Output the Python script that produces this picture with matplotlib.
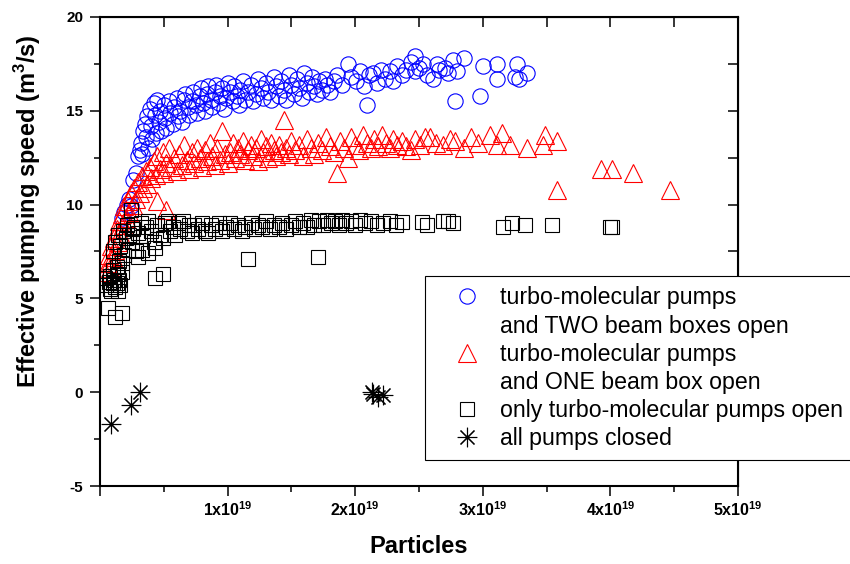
import numpy as np
import matplotlib
matplotlib.use("Agg")
import matplotlib.pyplot as plt
from matplotlib.lines import Line2D
from matplotlib.ticker import MultipleLocator

plt.rcParams['font.family'] = ['Liberation Sans', 'DejaVu Sans']
plt.rcParams['mathtext.fontset'] = 'custom'
plt.rcParams['mathtext.rm'] = 'Liberation Sans'
plt.rcParams['mathtext.bf'] = 'Liberation Sans:bold'

# particles in units of 1e19, pumping speed in m^3/s
two_boxes = [
    (0.17, 9.3), (0.19, 9.6), (0.21, 10.0), (0.23, 10.3), (0.24, 9.9), (0.26, 11.3),
    (0.28, 11.7), (0.30, 12.6), (0.31, 12.9), (0.32, 13.3), (0.33, 12.7), (0.34, 13.9),
    (0.35, 14.3), (0.36, 13.6), (0.37, 14.7), (0.38, 13.0), (0.39, 15.1), (0.40, 14.2),
    (0.41, 13.5), (0.42, 15.4), (0.43, 14.8), (0.44, 13.8), (0.45, 15.6), (0.46, 14.4),
    (0.47, 15.0), (0.48, 13.9), (0.50, 15.3), (0.51, 14.6), (0.52, 14.1), (0.54, 15.5),
    (0.55, 14.9), (0.57, 14.3), (0.58, 15.2), (0.60, 15.7), (0.61, 14.7), (0.63, 15.0),
    (0.64, 14.4), (0.66, 15.6), (0.67, 15.9), (0.69, 15.2), (0.70, 14.8), (0.72, 15.5),
    (0.73, 16.0), (0.75, 15.3), (0.76, 14.9), (0.78, 15.8), (0.79, 16.2), (0.81, 15.4),
    (0.82, 15.0), (0.84, 15.9), (0.85, 16.3), (0.87, 15.6), (0.88, 15.2), (0.90, 16.0),
    (0.91, 16.4), (0.93, 15.4), (0.94, 15.8), (0.96, 16.2), (0.97, 15.1), (0.99, 15.7),
    (1.00, 16.5), (1.02, 16.0), (1.04, 15.5), (1.05, 16.3), (1.07, 15.8), (1.09, 15.3),
    (1.10, 16.1), (1.12, 16.6), (1.14, 15.6), (1.16, 16.0), (1.18, 16.4), (1.20, 15.5),
    (1.22, 15.9), (1.24, 16.7), (1.26, 16.2), (1.28, 15.7), (1.30, 16.5), (1.32, 16.0),
    (1.34, 15.6), (1.36, 16.8), (1.38, 16.3), (1.40, 15.8), (1.42, 16.6), (1.44, 16.1),
    (1.46, 15.6), (1.48, 16.9), (1.50, 16.4), (1.52, 15.9), (1.54, 16.7), (1.56, 16.2),
    (1.58, 15.7), (1.60, 17.0), (1.62, 16.5), (1.64, 16.0), (1.66, 16.8), (1.68, 16.3),
    (1.70, 15.9), (1.72, 16.6), (1.74, 16.1), (1.76, 16.7), (1.78, 16.4), (1.80, 16.0),
    (1.83, 16.6), (1.86, 16.9), (1.90, 16.4), (1.94, 17.5), (1.97, 16.8), (2.01, 16.6),
    (2.04, 17.1), (2.07, 16.3), (2.09, 15.3), (2.11, 16.9), (2.14, 17.0), (2.17, 16.5),
    (2.20, 17.2), (2.23, 16.7), (2.27, 17.1), (2.30, 16.6), (2.33, 17.4), (2.37, 16.9),
    (2.40, 17.2), (2.44, 17.6), (2.47, 17.9), (2.47, 17.1), (2.50, 17.3), (2.53, 17.5),
    (2.56, 16.9), (2.61, 16.7), (2.64, 17.5), (2.66, 17.2), (2.70, 17.3), (2.73, 17.0),
    (2.77, 17.7), (2.78, 15.5), (2.80, 17.1), (2.85, 17.8), (2.98, 15.8), (3.00, 17.4),
    (3.11, 17.5), (3.11, 16.7), (3.25, 16.8), (3.27, 17.5), (3.28, 16.7), (3.35, 17.0),
]

one_box = [
    (0.04, 6.4), (0.06, 6.9), (0.07, 7.3), (0.08, 6.6), (0.09, 7.8), (0.10, 7.2),
    (0.11, 8.2), (0.12, 7.6), (0.13, 8.7), (0.14, 8.0), (0.15, 9.1), (0.16, 8.5),
    (0.17, 9.5), (0.18, 8.9), (0.19, 9.9), (0.20, 9.3), (0.22, 10.2), (0.23, 9.6),
    (0.24, 10.6), (0.26, 10.0), (0.27, 10.9), (0.28, 10.3), (0.30, 11.2), (0.31, 10.6),
    (0.33, 11.5), (0.34, 10.9), (0.36, 11.8), (0.37, 11.1), (0.39, 12.0), (0.40, 11.4),
    (0.42, 12.3), (0.44, 11.6), (0.45, 12.6), (0.45, 10.2), (0.47, 11.9), (0.49, 12.8),
    (0.50, 11.7), (0.52, 12.2), (0.52, 9.7), (0.54, 13.0), (0.56, 12.0), (0.58, 12.5),
    (0.60, 11.8), (0.62, 12.7), (0.64, 12.1), (0.66, 13.2), (0.68, 12.4), (0.70, 11.9),
    (0.72, 12.8), (0.74, 12.2), (0.76, 13.0), (0.78, 12.5), (0.80, 12.0), (0.82, 12.9),
    (0.84, 12.3), (0.86, 13.3), (0.88, 12.6), (0.90, 12.1), (0.92, 13.0), (0.94, 12.4),
    (0.96, 13.9), (0.98, 12.7), (1.00, 12.2), (1.02, 12.8), (1.04, 13.3), (1.06, 12.5),
    (1.08, 13.0), (1.10, 12.7), (1.12, 13.4), (1.14, 12.4), (1.16, 12.9), (1.18, 13.2),
    (1.20, 12.6), (1.22, 13.0), (1.24, 12.3), (1.26, 13.5), (1.28, 12.8), (1.30, 13.1),
    (1.32, 12.5), (1.34, 13.3), (1.36, 12.9), (1.38, 12.6), (1.40, 13.2), (1.42, 12.8),
    (1.44, 14.5), (1.46, 13.0), (1.48, 12.7), (1.50, 13.4), (1.53, 12.9), (1.56, 13.2),
    (1.59, 12.6), (1.62, 13.5), (1.65, 13.0), (1.68, 12.7), (1.71, 13.3), (1.74, 12.9),
    (1.77, 13.6), (1.80, 13.1), (1.83, 12.8), (1.86, 11.7), (1.88, 13.4), (1.91, 13.0),
    (1.94, 12.5), (1.97, 13.6), (2.00, 13.2), (2.03, 12.9), (2.06, 13.7), (2.09, 13.3),
    (2.12, 13.0), (2.15, 13.5), (2.18, 13.1), (2.21, 13.7), (2.24, 13.3), (2.27, 13.0),
    (2.30, 13.5), (2.33, 13.2), (2.37, 13.4), (2.40, 13.1), (2.44, 12.9), (2.47, 13.5),
    (2.51, 13.2), (2.55, 13.6), (2.59, 13.6), (2.63, 13.3), (2.69, 13.2), (2.74, 13.5),
    (2.78, 13.4), (2.85, 13.0), (2.91, 13.6), (2.96, 13.3), (3.06, 13.7), (3.11, 13.2),
    (3.15, 13.8), (3.21, 13.2), (3.35, 13.0), (3.47, 13.2), (3.49, 13.7), (3.58, 13.4),
    (3.58, 10.8), (3.93, 11.9), (4.01, 11.9), (4.18, 11.7), (4.47, 10.8),
]

turbo_only = [
    (0.04, 6.1), (0.05, 5.7), (0.06, 4.5), (0.07, 5.9), (0.08, 6.2), (0.08, 5.5),
    (0.09, 5.4), (0.10, 5.8), (0.10, 6.5), (0.11, 6.0), (0.12, 4.0), (0.12, 5.6),
    (0.13, 6.7), (0.13, 5.8), (0.14, 5.4), (0.14, 6.3), (0.15, 7.0), (0.15, 6.0),
    (0.16, 5.7), (0.17, 4.2), (0.17, 6.4), (0.17, 6.9), (0.10, 7.5), (0.12, 8.0),
    (0.14, 8.4), (0.16, 7.8), (0.18, 8.6), (0.19, 7.3), (0.20, 8.2), (0.21, 8.9),
    (0.22, 7.6), (0.23, 8.4), (0.24, 9.7), (0.25, 8.0), (0.26, 8.7), (0.27, 8.8),
    (0.28, 7.5), (0.30, 7.2), (0.30, 8.5), (0.32, 9.0), (0.33, 7.6), (0.34, 8.3),
    (0.36, 8.8), (0.38, 7.4), (0.38, 9.1), (0.40, 8.6), (0.42, 8.0), (0.43, 7.7),
    (0.43, 6.1), (0.45, 8.9), (0.47, 8.4), (0.49, 6.3), (0.49, 8.2), (0.51, 9.0),
    (0.53, 9.1), (0.55, 8.6), (0.57, 8.8), (0.59, 8.4), (0.61, 9.0), (0.63, 8.7),
    (0.65, 9.1), (0.68, 8.6), (0.70, 8.9), (0.72, 8.5), (0.74, 8.9), (0.77, 8.7),
    (0.80, 9.0), (0.82, 8.6), (0.85, 8.5), (0.87, 8.9), (0.90, 8.7), (0.93, 9.0),
    (0.96, 8.6), (0.99, 8.8), (1.02, 9.0), (1.05, 8.7), (1.08, 8.9), (1.11, 8.6),
    (1.14, 8.8), (1.16, 7.1), (1.18, 9.0), (1.21, 8.7), (1.24, 8.9), (1.27, 8.8),
    (1.30, 9.1), (1.33, 8.7), (1.36, 8.9), (1.40, 8.8), (1.43, 9.0), (1.46, 8.7),
    (1.50, 8.9), (1.53, 9.1), (1.56, 8.8), (1.59, 9.0), (1.62, 8.8), (1.65, 9.2),
    (1.68, 8.9), (1.71, 7.2), (1.72, 9.1), (1.75, 8.9), (1.78, 9.2), (1.81, 9.0),
    (1.84, 9.1), (1.87, 8.9), (1.90, 9.2), (1.93, 9.0), (1.97, 9.1), (2.00, 8.9),
    (2.04, 9.2), (2.08, 9.0), (2.12, 9.1), (2.17, 8.9), (2.22, 9.0), (2.27, 9.1),
    (2.32, 8.9), (2.37, 9.05), (2.52, 9.05), (2.56, 8.9), (2.69, 9.1), (2.73, 9.15),
    (2.77, 9.0), (3.16, 8.8), (3.23, 9.0), (3.33, 8.9), (3.54, 8.9), (4.00, 8.8),
    (4.01, 8.8),
]

all_closed = [
    (0.09, -1.7), (0.24, -0.7), (0.31, 0.0),
    (2.13, 0.0), (2.14, -0.1), (2.18, -0.25), (2.22, -0.15),
]

x_ticks = [0, 1, 2, 3, 4, 5]
y_ticks = [-5, 0, 5, 10, 15, 20]

labels = [
    'turbo-molecular pumps', 'and TWO beam boxes open',
    'turbo-molecular pumps', 'and ONE beam box open',
    'only turbo-molecular pumps open', 'all pumps closed',
]

star = (8, 2, 0)
styles = [
    (two_boxes, dict(marker='o', ms=11, mec='#0000ff')),
    (one_box, dict(marker='^', ms=13, mec='#ff0000')),
    (turbo_only, dict(marker='s', ms=9.5, mec='black')),
    (all_closed, dict(marker=star, ms=14, mec='black')),
]

fig = plt.figure(figsize=(8.5, 5.64), dpi=100)
ax = fig.add_axes([100 / 850, 78 / 564, 638 / 850, 469 / 564])

handles = []
for pts, st in styles:
    pts = np.array(pts)
    h, = ax.plot(pts[:, 0], pts[:, 1], ls='none', mfc='none', mew=0.8, **st)
    handles.append(h)

ax.set_xlim(0, 5)
ax.set_ylim(-5, 20)

ax.set_xticks(x_ticks)
ax.set_xticklabels(['' if v == 0 else r'$\mathbf{%dx10}^{\mathbf{19}}$' % v for v in x_ticks],
                   fontsize=11.5)
ax.xaxis.set_minor_locator(MultipleLocator(0.5))
ax.set_yticks(y_ticks)
ax.set_yticklabels([str(v) for v in y_ticks], fontsize=11, fontweight='bold')
ax.yaxis.set_minor_locator(MultipleLocator(2.5))

ax.tick_params(which='major', direction='out', length=7, width=1.1, pad=3)
ax.tick_params(which='minor', direction='out', length=4, width=1.1)
ax.tick_params(axis='y', pad=5)
for sp in ax.spines.values():
    sp.set_linewidth(1.5)

# inward ticks on the top and right edges
top = ax.secondary_xaxis('top')
top.set_xticks(np.arange(0, 5.01, 0.5))
top.tick_params(direction='in', length=7, width=1.1, labeltop=False)
right = ax.secondary_yaxis('right')
right.set_yticks(np.arange(-5, 20.01, 2.5))
right.tick_params(direction='in', length=7, width=1.1, labelright=False)

ax.set_xlabel('Particles', fontsize=17, fontweight='bold')
ax.xaxis.set_label_coords(0.5, -0.105)
ax.set_ylabel(r'Effective pumping speed (m$^{\mathbf{3}}$/s)', fontsize=17, fontweight='bold')
ax.yaxis.set_label_coords(-0.09, 0.585)

blank = Line2D([], [], ls='none', marker='none')
leg_handles = [handles[0], blank, handles[1], blank, handles[2], handles[3]]
leg = ax.legend(leg_handles, labels, loc='upper left',
                bbox_to_anchor=(425 / 850, 1 - 276 / 564), bbox_transform=fig.transFigure,
                fontsize=16.7, frameon=True, fancybox=False, framealpha=1,
                edgecolor='black', labelspacing=0.22, handlelength=2.7,
                handletextpad=0.08, borderpad=0.45, borderaxespad=0)
leg.get_frame().set_linewidth(0.8)

fig.savefig('out.png', dpi=100)
